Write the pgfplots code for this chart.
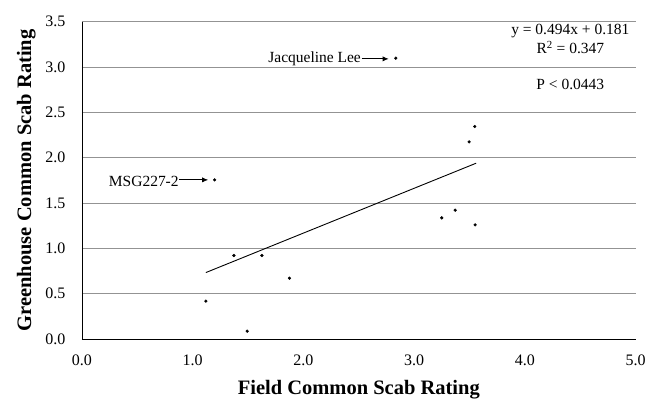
\documentclass[border=0pt]{standalone}
\usepackage{fontspec}
\setmainfont{Liberation Serif}
\usepackage{pgfplots}
\pgfplotsset{compat=1.18}
\usetikzlibrary{arrows.meta}
\begin{document}
\begin{tikzpicture}
\begin{axis}[
  at={(0,0)}, anchor=south west,
  scale only axis, width=554pt, height=317.6pt,
  xmin=0, xmax=5, ymin=0, ymax=3.5,
  xtick={0,1,2,3,4,5}, ytick={0,0.5,1,1.5,2,2.5,3,3.5},
  axis x line=bottom, axis y line=left,
  axis line style={-, black, line width=0.9pt},
  ymajorgrids, grid style={gray!85, line width=0.6pt},
  major tick length=0pt,
  tick label style={font=\fontsize{16}{18}\selectfont},
  xticklabel style={yshift=-12pt},
  yticklabel style={xshift=-13pt},
  xticklabel={\pgfmathprintnumber[fixed,fixed zerofill,precision=1,assume math mode=true]{\tick}},
  yticklabel={\pgfmathprintnumber[fixed,fixed zerofill,precision=1,assume math mode=true]{\tick}},
  xlabel={Field Common Scab Rating},
  ylabel={Greenhouse Common Scab Rating},
  label style={font=\fontsize{20.5}{23}\selectfont\bfseries},
  xlabel style={yshift=-8pt},
  ylabel style={yshift=3pt},
  clip=false,
]
\addplot[only marks, mark=*, mark size=1.4pt, black] coordinates {
(1.198,1.756) (2.834,3.098) (3.547,2.344) (3.496,2.175)
(1.119,0.419) (1.372,0.922) (1.625,0.922) (1.874,0.672)
(1.492,0.088) (3.249,1.337) (3.370,1.422) (3.550,1.260)
};
\addplot[black, line width=0.9pt] coordinates {(1.119,0.734) (3.560,1.940)};
\node[anchor=base east, inner sep=0pt, font=\fontsize{15.5}{17}\selectfont] at (axis cs:2.52,3.045) {Jacqueline Lee};
\draw[-{Latex[length=6pt,width=5pt]}, line width=0.8pt] (axis cs:2.525,3.09) -- (axis cs:2.77,3.09);
\node[anchor=base east, inner sep=0pt, font=\fontsize{15.5}{17}\selectfont] at (axis cs:0.875,1.683) {MSG227-2};
\draw[-{Latex[length=6pt,width=5pt]}, line width=0.8pt] (axis cs:0.88,1.756) -- (axis cs:1.14,1.756);
\node[anchor=base, inner sep=0pt, font=\fontsize{15.5}{17}\selectfont] at (axis cs:4.41,3.363) {y = 0.494x + 0.181};
\node[anchor=base, inner sep=0pt, font=\fontsize{15.5}{17}\selectfont] at (axis cs:4.41,3.146) {R\textsuperscript{2} = 0.347};
\node[anchor=base, inner sep=0pt, font=\fontsize{15.5}{17}\selectfont] at (axis cs:4.41,2.749) {P < 0.0443};
\end{axis}
\path[use as bounding box] (-82pt,-56.7pt) rectangle (567pt,339.3pt);
\end{tikzpicture}
\end{document}
